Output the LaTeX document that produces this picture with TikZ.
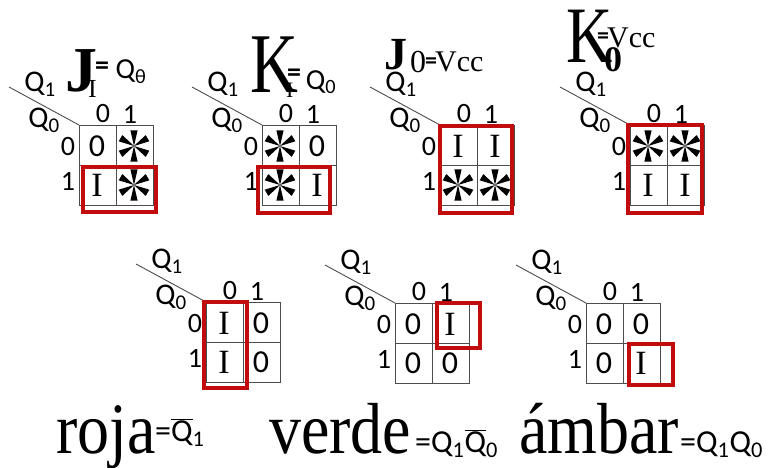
\documentclass[tikz,border=0pt]{standalone}
\usepackage{fontspec}
\setmainfont{Liberation Serif}
\newfontfamily\calib{Carlito}
\usetikzlibrary{calc}
\definecolor{kred}{RGB}{192,12,12}
\newcommand{\fs}[1]{\fontsize{#1}{#1}\selectfont}
\newcommand{\nQ}{\ensuremath{\overline{\hbox{Q}}}}
\newcommand{\tall}[1]{\scalebox{1}[1.13]{#1}}
\tikzset{
  kline/.style={draw=black!70, line width=0.9pt},
  redbox/.style={draw=kred, line width=4pt},
  lbl/.style={inner sep=0pt, font=\calib\fs{28}},
  qlbl/.style={inner sep=0pt, font=\calib\fs{30}},
  cell0/.style={inner sep=0pt, font=\calib\fs{32}},
  cellI/.style={inner sep=0pt, font=\fs{34}},
  big/.style={inner sep=0pt, anchor=base west},
  dcare/.pic={\foreach \a in {30,90,...,330}{\fill (0,0) -- (\a-13:16) -- (\a+13:16) -- cycle;}}
}
\begin{document}
\begin{tikzpicture}[x=1pt,y=-1pt]
\useasboundingbox (0,0) rectangle (769,468);

% the seven maps
\foreach \n/\L/\T in {a/79/125, b/262/125, c/440/125, d/630/125, e/206/302, f/395/303, g/586/303}{
  \coordinate (o\n) at (\L,\T);
  \draw[kline] (o\n) rectangle ++(74,80);
  \draw[kline] ($(o\n)+(37,0)$) -- ++(0,80);
  \draw[kline] ($(o\n)+(0,40)$) -- ++(74,0);
  \coordinate (dl\n) at ($(o\n)+(-70,-38)$);
  \draw[kline] (dl\n) -- (o\n);
  \node[qlbl] (qa\n) at ($(o\n)+(-39,-41)$) {Q\textsubscript{1}};
  \node[qlbl] (qb\n) at ($(o\n)+(-35,-5)$) {Q\textsubscript{0}};
  \node[lbl] (ca\n) at ($(o\n)+(24,-11)$) {0};
  \node[lbl] (cb\n) at ($(o\n)+(51,-11)$) {1};
  \node[lbl] (ra\n) at ($(o\n)+(-11,22)$) {0};
  \node[lbl] (rb\n) at ($(o\n)+(-11,56)$) {1};
}

% groups
\draw[redbox] ($(oa)+(4,42)$) rectangle ($(oa)+(77,87)$);
\draw[redbox] ($(ob)+(-4,42)$) rectangle ($(ob)+(68,88)$);
\draw[redbox] ($(oc)+(0,1)$) rectangle ($(oc)+(72,88)$);
\draw[redbox] ($(od)+(-2,0)$) rectangle ($(od)+(72,88)$);
\draw[redbox] ($(oe)+(-2,0)$) rectangle ($(oe)+(41,86)$);
\draw[redbox] ($(of)+(42,0)$) rectangle ($(of)+(85,45)$);
\draw[redbox] ($(og)+(43,41)$) rectangle ($(og)+(87,82)$);

% cell values
\foreach \n/\i/\j/\t in {a/0/0/0, a/1/0/I, b/0/1/0, b/1/1/I, c/0/0/I, c/0/1/I,
    d/1/0/I, d/1/1/I, e/0/0/I, e/0/1/0, e/1/0/I, e/1/1/0,
    f/0/0/0, f/0/1/I, f/1/0/0, f/1/1/0, g/0/0/0, g/0/1/0, g/1/0/0, g/1/1/I}
  \node[cell\t] (\n\i\j) at ($(o\n)+(18+37*\j,21+39*\i)$) {\t};
\foreach \n/\i/\j in {a/0/1, a/1/1, b/0/0, b/1/0, c/1/0, c/1/1, d/0/0, d/0/1}
  \pic (s\n\i\j) at ($(o\n)+(18+37*\j,21+39*\i)$) {dcare};

% titles
\node[big, font=\bfseries\fs{64}] (ja) at (65,92) {J};
\node[big, font=\fs{26}] (ia) at (88,98) {I};
\node[inner sep=0pt, font=\calib\bfseries\fs{28}] (ea) at (102,68) {=};
\node[inner sep=0pt, font=\calib\fs{29}] (ta) at (131,72) {Q\textsubscript{θ}};

\node[big, font=\fs{85}] (kb) at (250,93) {\scalebox{0.78}[1]{K}};
\node[big, font=\fs{22}] (ib) at (286,98) {I};
\node[inner sep=0pt, font=\calib\bfseries\fs{28}] (eb) at (294,75) {=};
\node[inner sep=0pt, font=\calib\fs{29}] (tb) at (321,82) {Q\textsubscript{0}};

\node[big, font=\bfseries\fs{46}] (jc) at (384,70) {J};
\node[inner sep=0pt, font=\fs{32}] (zc) at (418,62) {0};
\node[inner sep=0pt, font=\calib\bfseries\fs{24}] (ec) at (431,63) {=};
\node[big, font=\fs{30}] (vc) at (435,72) {Vcc};

\node[big, font=\fs{80}] (kd) at (566,63) {\scalebox{0.8}[1]{K}};
\node[inner sep=0pt, font=\bfseries\fs{36}] (zd) at (613,60) {0};
\node[inner sep=0pt, font=\calib\bfseries\fs{24}] (ed) at (603,38) {=};
\node[big, font=\fs{30}] (vd) at (607,48) {Vcc};

% outputs
\node[big, font=\fs{64}] (roja) at (56,453) {\tall{roja}};
\node[big, font=\calib\fs{32}] (froja) at (155,441) {=\nQ\textsubscript{1}};
\node[big, font=\fs{64}] (verde) at (269,453) {\tall{verde}};
\node[big, font=\calib\fs{32}] (fverde) at (415,452) {=Q\textsubscript{1}\nQ\textsubscript{0}};
\node[big, font=\fs{64}] (ambar) at (519,453) {\tall{ámbar}};
\node[big, font=\calib\fs{32}] (fambar) at (680,452) {=Q\textsubscript{1}Q\textsubscript{0}};
\end{tikzpicture}
\end{document}
